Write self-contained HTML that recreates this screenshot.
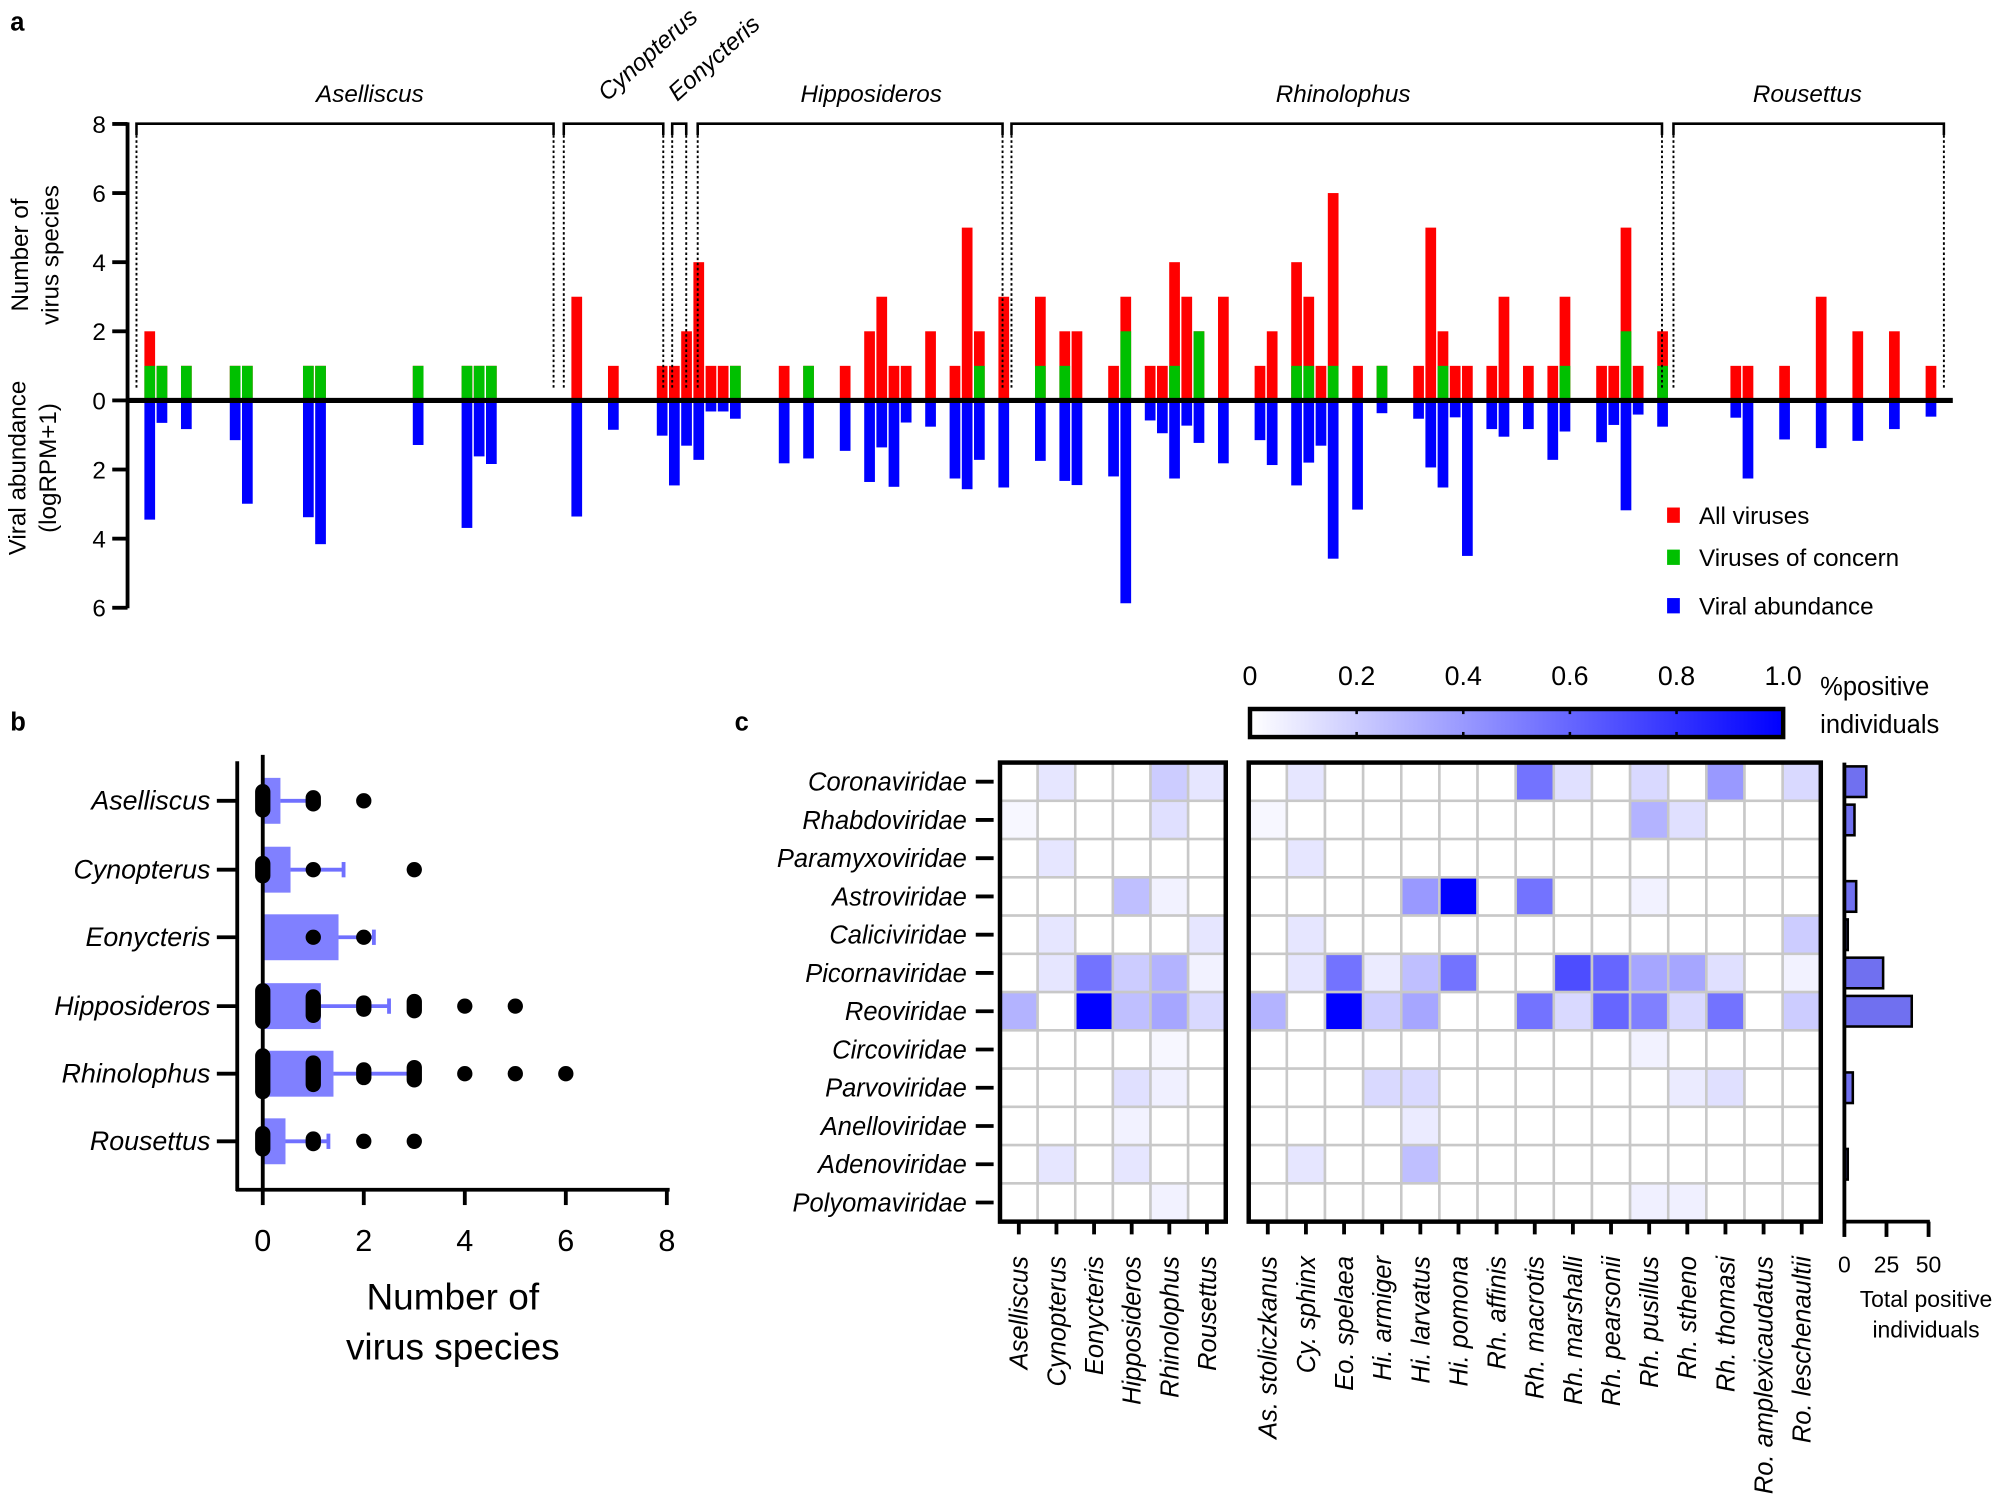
<!DOCTYPE html>
<html><head><meta charset="utf-8"><style>
html,body{margin:0;padding:0;background:#fff}
svg{display:block;font-family:"Liberation Sans",Arial,sans-serif}
</style></head><body>
<svg id="fig" width="2000" height="1506" viewBox="0 0 1568 1181" preserveAspectRatio="none" xmlns="http://www.w3.org/2000/svg">
<rect width="1568" height="1181" fill="#fff"/>
<text x="8" y="24" font-size="20" font-weight="bold">a</text>
<text x="8" y="573" font-size="20" font-weight="bold">b</text>
<text x="576" y="573" font-size="20" font-weight="bold">c</text>
<g id="pa"></g>
<g id="pb"></g>
<g id="pc"></g>
</svg>
<script>
// ===== Panel a data =====
const slotIdx = [0,1,3,7,8,13,14,22,26,27,28,35,38,42,43,44,45,46,47,48,52,54,57,59,60,61,62,64,66,67,68,70,73,75,76,79,80,82,83,84,85,86,88,91,92,94,95,96,97,99,101,104,105,106,107,108,110,111,113,115,116,119,120,121,122,124,130,131,134,137,140,143,146];
const allViruses = [2,1,1,1,1,1,1,1,1,1,1,3,1,1,1,2,4,1,1,1,1,1,1,2,3,1,1,2,1,5,2,3,3,2,2,1,3,1,1,4,3,2,3,1,2,4,3,1,6,1,1,1,5,2,1,1,1,3,1,1,3,1,1,5,1,2,1,1,1,3,2,2,1];
const concern = [1,1,1,1,1,1,1,1,1,1,1,0,0,0,0,0,0,0,0,1,0,1,0,0,0,0,0,0,0,0,1,0,1,1,0,0,2,0,0,1,0,2,0,0,0,1,1,0,1,0,1,0,0,1,0,0,0,0,0,0,1,0,0,2,0,1,0,0,0,0,0,0,0];
const abundance = [3.45,0.65,0.83,1.15,2.99,3.38,4.16,1.29,3.69,1.62,1.84,3.36,0.85,1.02,2.46,1.31,1.72,0.32,0.32,0.53,1.82,1.68,1.46,2.36,1.36,2.5,0.64,0.76,2.26,2.57,1.72,2.52,1.75,2.33,2.45,2.2,5.87,0.58,0.95,2.26,0.73,1.23,1.82,1.15,1.87,2.46,1.8,1.31,4.58,3.16,0.37,0.53,1.94,2.52,0.49,4.5,0.83,1.05,0.83,1.72,0.9,1.21,0.71,3.18,0.41,0.76,0.5,2.26,1.13,1.38,1.17,0.83,0.47];
const aTicks = [8,6,4,2,0,2,4,6];
const genera = ["Aselliscus","Cynopterus","Eonycteris","Hipposideros","Rhinolophus","Rousettus"];

// ===== Panel b data =====
const bMeans = [0.35,0.55,1.5,1.15,1.4,0.45];
const bSD = [0.65,1.05,0.7,1.35,1.5,0.85];
const bDots = [[0,1,2],[0,1,3],[1,2],[0,1,2,3,4,5],[0,1,2,3,4,5,6],[0,1,2,3]];
const bDotCounts = [[12,4,1],[8,1,1],[1,1],[20,12,4,6,1,1],[30,14,5,8,1,1,1],[10,3,1,1]];
const bTicks = [0,2,4,6,8];

// ===== Panel c data =====
const families = ["Coronaviridae","Rhabdoviridae","Paramyxoviridae","Astroviridae","Caliciviridae","Picornaviridae","Reoviridae","Circoviridae","Parvoviridae","Anelloviridae","Adenoviridae","Polyomaviridae"];
const species = ["As. stoliczkanus","Cy. sphinx","Eo. spelaea","Hi. armiger","Hi. larvatus","Hi. pomona","Rh. affinis","Rh. macrotis","Rh. marshalli","Rh. pearsonii","Rh. pusillus","Rh. stheno","Rh. thomasi","Ro. amplexicaudatus","Ro. leschenaultii"];
const genusHeat = [
[0,.1,0,0,.2,.1],[.03,0,0,0,.12,0],[0,.1,0,0,0,0],[0,0,0,.25,.05,0],[0,.1,0,0,0,.1],[0,.1,.55,.2,.3,.05],
[.3,0,1,.25,.35,.15],[0,0,0,0,.03,0],[0,0,0,.12,.06,0],[0,0,0,.05,0,0],[0,.1,0,.1,0,0],[0,0,0,0,.05,0]];
const speciesHeat = [
[0,.1,0,0,0,0,0,.55,.12,0,.15,0,.4,0,.15],
[.03,0,0,0,0,0,0,0,0,0,.3,.12,0,0,0],
[0,.1,0,0,0,0,0,0,0,0,0,0,0,0,0],
[0,0,0,0,.4,1,0,.55,0,0,.05,0,0,0,0],
[0,.1,0,0,0,0,0,0,0,0,0,0,0,0,.2],
[0,.1,.55,.08,.25,.55,0,0,.7,.6,.35,.35,.12,0,.05],
[.3,0,1,.2,.35,0,0,.55,.15,.6,.5,.15,.55,0,.2],
[0,0,0,0,0,0,0,0,0,0,.05,0,0,0,0],
[0,0,0,.15,.15,0,0,0,0,0,0,.08,.12,0,0],
[0,0,0,0,.08,0,0,0,0,0,0,0,0,0,0],
[0,.1,0,0,.25,0,0,0,0,0,0,0,0,0,0],
[0,0,0,0,0,0,0,0,0,0,.06,.06,0,0,0]];
const totalPositive = [13,6,0,7,2,23,40,0,5,0,2,0];
const cbTicks = ["0","0.2","0.4","0.6","0.8","1.0"];
const totTicks = [0,25,50];

const NS="http://www.w3.org/2000/svg";
function mk(parent, tag, attrs, txt){const e=document.createElementNS(NS,tag);for(const k in attrs)e.setAttribute(k,attrs[k]);if(txt!==undefined)e.textContent=txt;parent.appendChild(e);return e;}

// ---------- Panel a ----------
const pa=document.getElementById('pa');
const aX0=117.4, aPitch=9.565, aZero=314, aUnit=27.1, aBW=8.4;
const ax=k=>aX0+aPitch*k;
const ayUp=v=>aZero-v*aUnit;
const ayDn=v=>aZero+v*aUnit;
slotIdx.forEach((k,i)=>{
  const x=ax(k)-aBW/2;
  let r=mk(pa,'rect',{x:x,y:ayUp(allViruses[i]),width:aBW,height:allViruses[i]*aUnit,fill:'#ff0000'});
  
  
  if(concern[i]>0){
    let g=mk(pa,'rect',{x:x,y:ayUp(concern[i]),width:aBW,height:concern[i]*aUnit,fill:'#00c000'});
    
    
  }
  let b=mk(pa,'rect',{x:x,y:aZero,width:aBW,height:abundance[i]*aUnit,fill:'#0000ff'});
  
  
});
let zl=mk(pa,'line',{x1:100,y1:aZero,x2:1531,y2:aZero,stroke:'#000','stroke-width':4});


let yax=mk(pa,'line',{x1:100,y1:96,x2:100,y2:477,stroke:'#000','stroke-width':3});


aTicks.forEach((t,i)=>{
  const y=i<4?ayUp(t):(i===4?aZero:ayDn(t));
  mk(pa,'line',{x1:88,y1:y,x2:100,y2:y,stroke:'#000','stroke-width':3});
  let tl=mk(pa,'text',{x:83,y:y+7,'font-size':19,'text-anchor':'end'},t);
  
  
});
[[22,'Number of'],[46,'virus species']].forEach(([x,s])=>{
  let t=mk(pa,'text',{x:x,y:200,'font-size':19,'text-anchor':'middle',transform:`rotate(-90 ${x} 200)`},s);
  
  
});
[[20,'Viral abundance'],[44,'(logRPM+1)']].forEach(([x,s])=>{
  let t=mk(pa,'text',{x:x,y:367,'font-size':19,'text-anchor':'middle',transform:`rotate(-90 ${x} 367)`},s);
  
  
});
const brackets=[[107,434],[442,520],[527,538],[547,786],[793,1303],[1312,1524]];
brackets.forEach(([a,b])=>{
  let p=mk(pa,'path',{d:`M${a} 106 V97 H${b} V106`,fill:'none',stroke:'#000','stroke-width':2});
  
  
  mk(pa,'line',{x1:a,y1:106,x2:a,y2:306,stroke:'#000','stroke-width':1.5,'stroke-dasharray':'2 2'});
  mk(pa,'line',{x1:b,y1:106,x2:b,y2:306,stroke:'#000','stroke-width':1.5,'stroke-dasharray':'2 2'});
});
[[290,80,0,'Aselliscus'],[683,80,0,'Hipposideros'],[1053,80,0,'Rhinolophus'],[1417,80,0,'Rousettus'],[476,80,-42,'Cynopterus'],[531,80,-42,'Eonycteris']].forEach(([x,y,r,s])=>{
  let t=mk(pa,'text',{x:x,y:y,'font-size':19,'font-style':'italic','text-anchor':r?'start':'middle',transform:`rotate(${r} ${x} ${y})`},s);
  
  
});
[['#ff0000','All viruses',404],['#00c000','Viruses of concern',437],['#0000ff','Viral abundance',475]].forEach(([c,s,y])=>{
  let r=mk(pa,'rect',{x:1307,y:y-6,width:10,height:12,fill:c});
  
  
  let t=mk(pa,'text',{x:1332,y:y+7,'font-size':19},s);
  
  
});

// ---------- Panel b ----------
const pb=document.getElementById('pb');
const bx=v=>206+v*39.6;
const bRowY=[628,682,735,789,842,895];
genera.forEach((g,i)=>{
  const y=bRowY[i];
  let bar=mk(pb,'rect',{x:bx(0),y:y-18,width:bx(bMeans[i])-bx(0),height:36,fill:'#8080ff'});
  
  
  let eb=mk(pb,'line',{x1:bx(bMeans[i]),y1:y,x2:bx(bMeans[i]+bSD[i]),y2:y,stroke:'#7070ff','stroke-width':3});
  
  
  mk(pb,'line',{x1:bx(bMeans[i]+bSD[i]),y1:y-6,x2:bx(bMeans[i]+bSD[i]),y2:y+6,stroke:'#7070ff','stroke-width':3});
  bDots[i].forEach((v,j)=>{
    const n=bDotCounts[i][j];const h=Math.min(12+ (n>1?Math.min(n,30)*1.2:0),40);
    let d=mk(pb,'rect',{x:bx(v)-6,y:y-h/2,width:12,height:h,rx:6,fill:'#000'});
    
    
  });
  mk(pb,'line',{x1:170,y1:y,x2:186,y2:y,stroke:'#000','stroke-width':3});
  let t=mk(pb,'text',{x:165,y:y+7,'font-size':21,'font-style':'italic','text-anchor':'end'},g);
  
  
});
mk(pb,'line',{x1:206,y1:592,x2:206,y2:933,stroke:'#000','stroke-width':3});
let byax=mk(pb,'line',{x1:186,y1:597,x2:186,y2:934,stroke:'#000','stroke-width':3});


let bxax=mk(pb,'line',{x1:185,y1:933,x2:525,y2:933,stroke:'#000','stroke-width':3});


bTicks.forEach(t=>{
  mk(pb,'line',{x1:bx(t),y1:933,x2:bx(t),y2:945,stroke:'#000','stroke-width':3});
  let l=mk(pb,'text',{x:bx(t),y:981,'font-size':24,'text-anchor':'middle'},t);
  
  
});
[['Number of',1027],['virus species',1066]].forEach(([s,y])=>{
  let t=mk(pb,'text',{x:355,y:y,'font-size':29,'text-anchor':'middle'},s);
  
  
});

// ---------- Panel c ----------
const pc=document.getElementById('pc');
const col=v=>{const c=Math.round(255*(1-v));return `rgb(${c},${c},255)`;};
const cTop=598, cRow=30;
function heat(x0,cw,data,names,tag){
  data.forEach((row,r)=>row.forEach((v,c)=>{
    let cell=mk(pc,'rect',{x:x0+c*cw,y:cTop+r*cRow,width:cw,height:cRow,fill:col(v),stroke:'#c8c8c8','stroke-width':2});
    
    
  }));
  const w=cw*names.length;
  let bx_=mk(pc,'rect',{x:x0,y:cTop,width:w,height:cRow*12,fill:'none',stroke:'#000','stroke-width':3.5});
  
  
  names.forEach((n,c)=>{
    const x=x0+c*cw+cw/2;
    mk(pc,'line',{x1:x,y1:cTop+360,x2:x,y2:cTop+370,stroke:'#000','stroke-width':3});
    let t=mk(pc,'text',{x:x+7,y:985,'font-size':20,'font-style':'italic','text-anchor':'end',transform:`rotate(-90 ${x+7} 985)`},n);
    
    
  });
}
heat(784,29.5,genusHeat,genera,'genus');
heat(979,29.9,speciesHeat,species,'species');
families.forEach((f,r)=>{
  const y=cTop+r*cRow+cRow/2;
  mk(pc,'line',{x1:765,y1:y,x2:779,y2:y,stroke:'#000','stroke-width':3});
  let t=mk(pc,'text',{x:758,y:y+7,'font-size':20,'font-style':'italic','text-anchor':'end'},f);
  
  
});
// colour bar
const defs=mk(pc,'defs',{});
const lg=mk(defs,'linearGradient',{id:'cbg',x1:0,x2:1,y1:0,y2:0});
mk(lg,'stop',{offset:'0',"stop-color":'#ffffff'});
mk(lg,'stop',{offset:'1',"stop-color":'#0000ff'});
let cb=mk(pc,'rect',{x:980,y:556,width:418,height:22,fill:'url(#cbg)',stroke:'#000','stroke-width':3.5});


cbTicks.forEach((t,i)=>{
  const x=980+i*83.6;
  if(i>0&&i<5){mk(pc,'line',{x1:x,y1:556,x2:x,y2:560,stroke:'#000','stroke-width':2});mk(pc,'line',{x1:x,y1:574,x2:x,y2:578,stroke:'#000','stroke-width':2});}
  let l=mk(pc,'text',{x:x,y:537,'font-size':21,'text-anchor':'middle'},t);
  
  
});
[['%positive',545],['individuals',575]].forEach(([s,y])=>{
  let t=mk(pc,'text',{x:1427,y:y,'font-size':20},s);
  
  
});
// total positive bars
const tx=v=>1446+v*1.32;
totalPositive.forEach((v,r)=>{
  if(v<=0)return;
  let b=mk(pc,'rect',{x:tx(0),y:cTop+r*cRow+3,width:tx(v)-tx(0),height:cRow-6,fill:'#7070f0',stroke:'#000','stroke-width':2});
  
  
});
mk(pc,'line',{x1:1446,y1:598,x2:1446,y2:960,stroke:'#000','stroke-width':3});
let tax=mk(pc,'line',{x1:1445,y1:958,x2:1513,y2:958,stroke:'#000','stroke-width':3});


totTicks.forEach(t=>{
  mk(pc,'line',{x1:tx(t),y1:958,x2:tx(t),y2:970,stroke:'#000','stroke-width':3});
  let l=mk(pc,'text',{x:tx(t),y:998,'font-size':18,'text-anchor':'middle'},t);
  
  
});
[['Total positive',1025],['individuals',1049]].forEach(([s,y])=>{
  let t=mk(pc,'text',{x:1510,y:y,'font-size':18,'text-anchor':'middle'},s);
  
  
});
</script>
</body></html>
